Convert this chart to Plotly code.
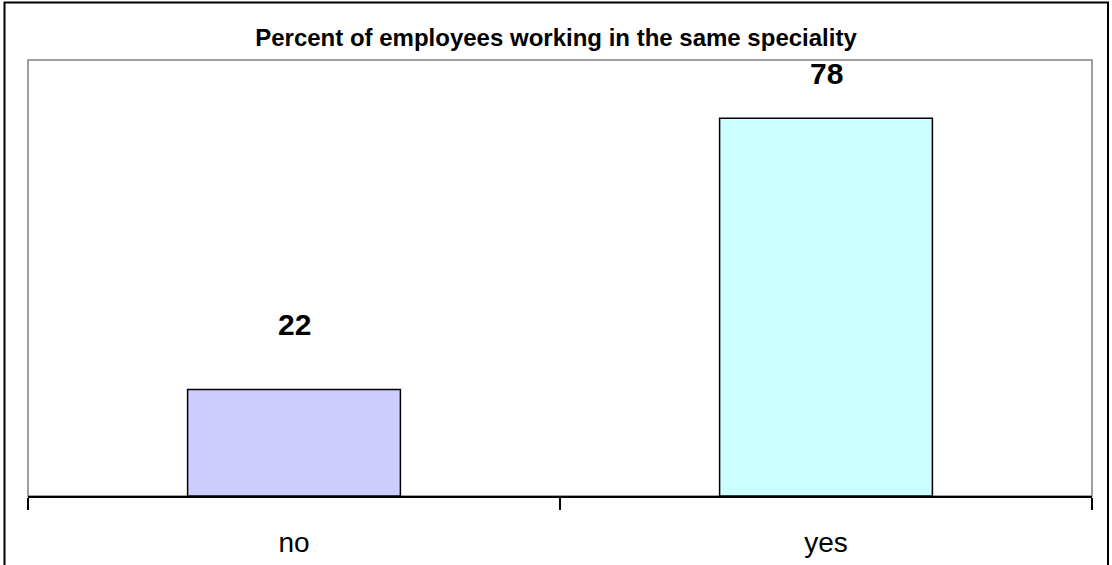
import plotly.graph_objects as go

categories = ["no", "yes"]
percent = [22, 78]
bar_colors = ["#CCCCFF", "#CCFFFF"]
title_text = "Percent of employees working in the same speciality"

W, H = 1112, 565
L, R, T, B = 28, 20, 60, 69
plot_w = W - L - R
plot_h = H - T - B

fig = go.Figure(
    go.Bar(
        x=categories,
        y=percent,
        marker=dict(color=bar_colors, line=dict(color="black", width=1.5)),
        width=0.4,
        hoverinfo="skip",
    )
)

# value labels above the bars
label_shift = [65, 45]
for cat, val, dy in zip(categories, percent, label_shift):
    fig.add_annotation(
        x=cat, y=val, text=str(val), showarrow=False,
        yanchor="middle", yshift=dy,
        font=dict(family="Liberation Sans, Arial", size=30, color="black", weight="bold"),
    )

def px_x(p):
    return (p - L) / plot_w

def px_y(p):
    return (H - B - p) / plot_h

# grey plot-area frame
fig.add_shape(type="rect", xref="paper", yref="paper", x0=0, x1=1, y0=0, y1=1,
              line=dict(color="#808080", width=1.5), layer="below")
# outer chart frame
fig.add_shape(type="rect", xref="paper", yref="paper",
              x0=px_x(4.5), x1=px_x(1108), y0=px_y(575), y1=px_y(2.5),
              line=dict(color="black", width=2))

fig.update_layout(
    width=W, height=H,
    margin=dict(l=L, r=R, t=T, b=B),
    paper_bgcolor="white", plot_bgcolor="white",
    showlegend=False,
    title=dict(
        text=title_text, x=0.5, xanchor="center",
        yref="container", y=1 - 38 / H, yanchor="middle",
        font=dict(family="Liberation Sans, Arial", size=24, color="black", weight="bold"),
    ),
    xaxis=dict(
        showline=True, linecolor="black", linewidth=2,
        ticks="outside", tickson="boundaries", ticklen=12, tickwidth=2, tickcolor="black",
        tickfont=dict(family="Liberation Sans, Arial", size=28, color="black"),
        ticklabelstandoff=20, automargin=False,
        showgrid=False, zeroline=False,
    ),
    yaxis=dict(range=[0, 90], visible=False, showgrid=False, zeroline=False, automargin=False),
)

fig.write_html("out.html")
